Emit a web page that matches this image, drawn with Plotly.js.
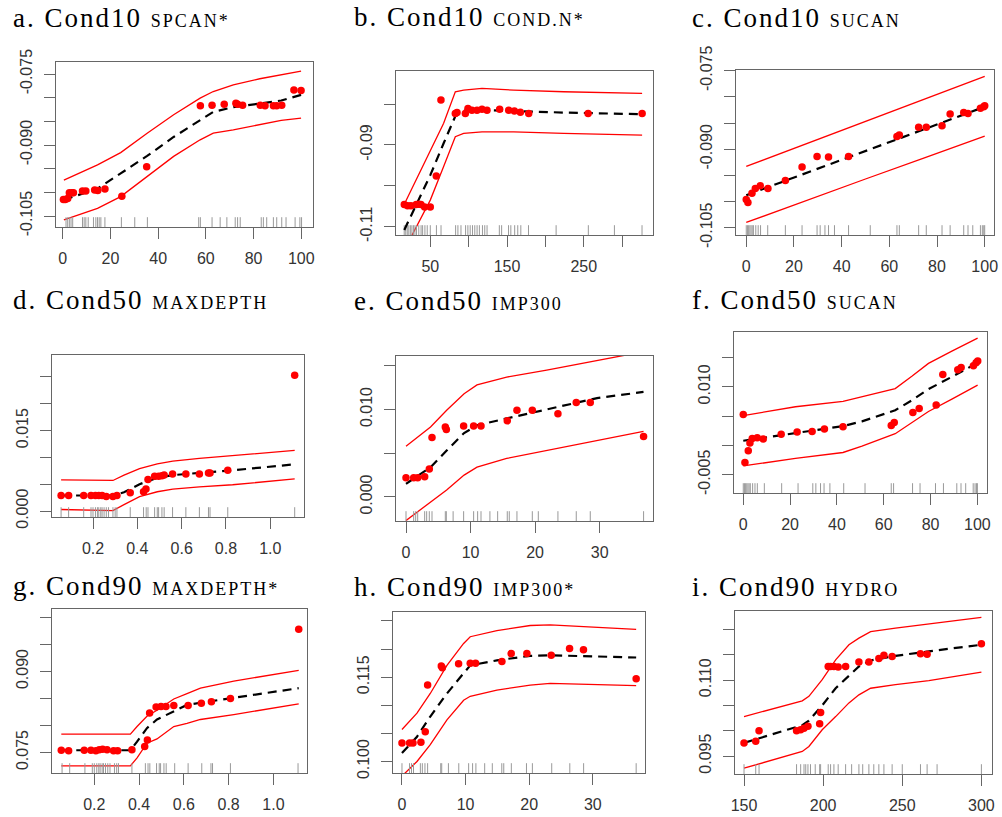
<!DOCTYPE html>
<html><head><meta charset="utf-8">
<script src="https://cdn.plot.ly/plotly-3.0.1.min.js"></script>
<style>
html,body{margin:0;padding:0;background:#fff;}
#chart{width:1002px;height:817px;}
.annotation-text{letter-spacing:2px;}
</style></head><body><div id="chart"></div>
<script>
// ---------- panel titles ----------
const titleMain = ['a. Cond10','b. Cond10','c. Cond10','d. Cond50','e. Cond50','f. Cond50','g. Cond90','h. Cond90','i. Cond90'];
const titleSub  = ['SPCAN*','COND.N*','SUCAN','MAXDEPTH','IMP300','SUCAN','MAXDEPTH*','IMP300*','HYDRO'];

// ---------- tick values / labels ----------
const xt0to100 = [0,20,40,60,80,100];
const xl0to100 = ['0','20','40','60','80','100'];
const xtCondN = [50,100,150,200,250,300];
const xlCondN = ['50','','150','','250',''];
const xtDepth = [0.2,0.4,0.6,0.8,1.0];
const xlDepth = ['0.2','0.4','0.6','0.8','1.0'];
const xtImp = [0,10,20,30];
const xlImp = ['0','10','20','30'];
const xtHydro = [150,200,250,300];
const xlHydro = ['150','200','250','300'];

const ytA = [-0.105,-0.100,-0.095,-0.090,-0.085,-0.080,-0.075];
const ylA = ['-0.105','','','-0.090','','','-0.075'];
const ytB = [-0.11,-0.10,-0.09,-0.08];
const ylB = ['-0.11','','-0.09',''];
const ytD = [0,0.005,0.010,0.015,0.020,0.025];
const ylD = ['0.000','','','0.015','',''];
const ytE = [0,0.005,0.010,0.015];
const ylE = ['0.000','','0.010',''];
const ytF = [-0.005,0,0.005,0.010,0.015];
const ylF = ['-0.005','','','0.010',''];
const ytG = [0.075,0.080,0.085,0.090,0.095,0.100];
const ylG = ['0.075','','','0.090','',''];
const ytH = [0.100,0.105,0.110,0.115,0.120,0.125];
const ylH = ['0.100','','','0.115','',''];
const ytI = [0.095,0.100,0.105,0.110,0.115,0.120];
const ylI = ['0.095','','','0.110','',''];

// ---------- rug (observed predictor values) ----------
const spcanRug = [1.4,2.1,2.8,3.5,4.2,8.3,9,9.7,10.7,12.9,13.9,14.6,15.3,16,17.7,24.6,30.2,35.5,57,57.7,62.6,66,68.8,72.3,73.3,74.4,83.2,84.1,85.5,88.3,89.7,91.8,93.6,97.4,99.4,100.1];
const condnRug = [16,18,20,22,24,26,28,30,32,35,38,40,43,46,50,58,64,83,86,90,96,99,102,105,108,111,114,118,121,124,140,143,152,155,160,164,168,178,214,256,290,326];
const sucanRug = [0,0.5,1,1.5,2,2.5,3,4,5,6,9,16.4,23.4,29.7,31,33,34.5,37,42.9,52,63.2,64.2,72.3,75.5,82.1,85.5,91.2,93,95,98.2,99,99.6,100];
const depthRug = [0.056,0.09,0.158,0.191,0.2,0.211,0.22,0.226,0.235,0.241,0.25,0.26,0.27,0.29,0.3,0.308,0.368,0.428,0.44,0.448,0.478,0.49,0.496,0.511,0.521,0.559,0.619,0.68,0.721,0.728,0.808,1.11];
const impRug = [0,1.19,1.5,1.81,2.89,3.2,3.61,4.03,6.09,6.25,7.3,8.93,10.48,11.1,11.62,13,14.2,15.69,16,17.19,19.57,20.5,23.54,26.38,28.55,36.81];
const hydroRug = [150,157.4,159.5,183.2,185.8,187.9,189,190.4,192,195,197.8,198.4,203.2,204.7,206.8,209.5,214.2,218,222.6,225,228.9,232,235.2,238.4,243.6,250,261.5,265.7,272,300];

// ---------- panel a ----------
const aX = [0.3,1.1,2.1,2.8,3.9,4.5,8.3,9.7,13.4,14.7,17.7,24.8,35.2,57.7,62.6,67.7,72.6,73.3,75.4,82.8,84.8,88.3,89.7,91.8,96.9,99.9];
const aY = [-0.1015,-0.1015,-0.1013,-0.1001,-0.1001,-0.1001,-0.0997,-0.0997,-0.0995,-0.0996,-0.0993,-0.1008,-0.0946,-0.0817,-0.0816,-0.0814,-0.0812,-0.0814,-0.0816,-0.0816,-0.0817,-0.0817,-0.0817,-0.0816,-0.0784,-0.0785];
const aCurveX = [0.5,14.6,24.3,35.4,46.5,57.6,63.1,71.5,82.6,91.6,99.9];
const aFit   = [-0.1016,-0.0992,-0.0960,-0.0923,-0.0883,-0.0847,-0.0830,-0.0820,-0.0813,-0.0806,-0.0794];
const aUpper = [-0.0974,-0.0942,-0.0916,-0.0875,-0.0836,-0.0801,-0.0787,-0.0773,-0.0760,-0.0751,-0.0744];
const aLower = [-0.1058,-0.1034,-0.1009,-0.0967,-0.0924,-0.0889,-0.0875,-0.0868,-0.0857,-0.0848,-0.0843];

// ---------- panel b ----------
const bX = [16.1,20.4,24.8,31.7,34.8,37.8,42.6,50,57.8,63.9,82.6,84.8,95.7,99.1,104.3,110.9,117.4,123.9,140.4,152.2,159.6,167.4,178.3,255.7,326.1];
const bY = [-0.1046,-0.1049,-0.1049,-0.1046,-0.1045,-0.1046,-0.1052,-0.1052,-0.0976,-0.0790,-0.0823,-0.0821,-0.0823,-0.0811,-0.0815,-0.0815,-0.0813,-0.0815,-0.0813,-0.0815,-0.0817,-0.0820,-0.0823,-0.0823,-0.0823];
const bCurveX = [16.1,27.4,50,67.4,82.6,93.5,117.4,158.7,223.9,326.1];
const bFit   = [-0.1108,-0.1064,-0.0974,-0.0896,-0.0830,-0.0816,-0.0815,-0.0817,-0.0821,-0.0825];
const bUpper = [-0.1045,-0.1002,-0.0917,-0.0847,-0.0770,-0.0766,-0.0762,-0.0766,-0.0770,-0.0774];
const bLower = [-0.1157,-0.1116,-0.1035,-0.0953,-0.0880,-0.0872,-0.0868,-0.0868,-0.0872,-0.0876];

// ---------- panel c ----------
const cX = [0,0.7,2.4,3.8,5.9,9.1,16.4,23.4,29.7,34.5,42.9,63.2,64.2,72.3,75.5,82.1,85.5,91.2,93.0,98.2,99.6,100];
const cY = [-0.0996,-0.1002,-0.0984,-0.0975,-0.0970,-0.0975,-0.0960,-0.0934,-0.0914,-0.0915,-0.0914,-0.0876,-0.0873,-0.0858,-0.0858,-0.0855,-0.0833,-0.0830,-0.0832,-0.0822,-0.0819,-0.0817];
const cCurveX = [0,25,50,75,100];
const cFit   = [-0.0988,-0.0946,-0.0904,-0.0861,-0.0819];
const cUpper = [-0.0933,-0.0890,-0.0847,-0.0804,-0.0761];
const cLower = [-0.1040,-0.0998,-0.0957,-0.0916,-0.0875];

// ---------- panel d ----------
const dX = [0.056,0.090,0.158,0.191,0.211,0.226,0.241,0.260,0.290,0.308,0.368,0.428,0.439,0.448,0.478,0.496,0.511,0.521,0.559,0.619,0.680,0.721,0.728,0.808,1.110];
const dY = [0.0029,0.0029,0.0029,0.0029,0.0029,0.0029,0.0029,0.0027,0.0027,0.0029,0.0034,0.0036,0.0041,0.0059,0.0065,0.0065,0.0066,0.0067,0.0069,0.0069,0.0069,0.0071,0.0071,0.0076,0.0253];
const dCurveX = [0.056,0.29,0.34,0.41,0.49,0.56,0.68,0.83,1.11];
const dFit   = [0.0029,0.0029,0.0035,0.0050,0.0062,0.0067,0.0071,0.0076,0.0087];
const dUpper = [0.0058,0.0057,0.0067,0.0079,0.0088,0.0093,0.0098,0.0103,0.0113];
const dLower = [0.0003,0.0001,0.0012,0.0027,0.0036,0.0041,0.0045,0.0049,0.0060];

// ---------- panel e ----------
const eX = [0,1.19,1.81,2.89,3.61,4.03,6.09,6.25,8.93,10.48,11.62,15.69,17.19,19.57,23.54,26.38,28.55,36.81];
const eY = [0.0022,0.0022,0.0022,0.0023,0.0032,0.0068,0.0080,0.0077,0.0081,0.0081,0.0081,0.0087,0.0099,0.0099,0.0095,0.0108,0.0108,0.0069];
const eCurveX = [0,2.7,3.8,6.3,9.0,11.0,15.6,21.8,29.6,36.8];
const eFit   = [0.0015,0.0029,0.0034,0.0053,0.0073,0.0082,0.0090,0.0100,0.0113,0.0120];
const eUpper = [0.0058,0.0074,0.0080,0.0099,0.0118,0.0128,0.0137,0.0145,0.0156,0.0166];
const eLower = [-0.0027,-0.0012,-0.0006,0.0008,0.0025,0.0034,0.0044,0.0053,0.0065,0.0075];

// ---------- panel f ----------
const fX = [0,0.71,2.13,2.84,3.84,5.97,8.52,16.19,23.01,29.40,34.66,42.61,63.21,64.49,72.44,75.14,82.39,85.23,91.62,93.04,98.3,99.43,100.14];
const fY = [0.0053,-0.0029,-0.0009,0.0004,0.0012,0.0013,0.0011,0.0019,0.0023,0.0024,0.0028,0.0032,0.0034,0.0039,0.0056,0.0063,0.0069,0.0121,0.0129,0.0133,0.0136,0.0141,0.0144];
const fCurveX = [0,8.1,22.3,42.6,50.7,64.9,72,79.1,89.1,100.1];
const fFit   = [0.0008,0.0013,0.0021,0.0033,0.0041,0.0060,0.0077,0.0096,0.0117,0.0141];
const fUpper = [0.0051,0.0056,0.0066,0.0075,0.0083,0.0097,0.0118,0.0140,0.0161,0.0183];
const fLower = [-0.0035,-0.0030,-0.0022,-0.0012,-0.0001,0.0020,0.0039,0.0058,0.0079,0.0103];

// ---------- panel g ----------
const gX = [0.0525,0.0853,0.155,0.185,0.207,0.222,0.237,0.257,0.286,0.304,0.368,0.425,0.437,0.447,0.476,0.498,0.520,0.555,0.619,0.678,0.723,0.808,1.113];
const gY = [0.0754,0.0753,0.0754,0.0754,0.0753,0.0755,0.0756,0.0755,0.0753,0.0753,0.0755,0.0761,0.0773,0.0823,0.0834,0.0835,0.0835,0.0837,0.0837,0.0841,0.0844,0.0850,0.0978];
const gCurveX = [0.0525,0.361,0.391,0.435,0.48,0.555,0.614,0.674,0.823,1.113];
const gFit   = [0.0754,0.0754,0.0770,0.0795,0.0811,0.0826,0.0838,0.0842,0.0851,0.0869];
const gUpper = [0.0784,0.0784,0.0798,0.0817,0.0828,0.0849,0.0859,0.0869,0.0882,0.0902];
const gLower = [0.0725,0.0725,0.0740,0.0767,0.0775,0.0798,0.0804,0.0811,0.0820,0.0840];

// ---------- panel h ----------
const hX = [0,1.2,1.73,2.98,3.66,4.03,6.18,6.34,8.9,10.73,11.57,15.71,17.17,19.63,23.46,26.34,28.53,36.81];
const hY = [0.1033,0.1033,0.1033,0.1034,0.1053,0.1136,0.1170,0.1167,0.1174,0.1175,0.1175,0.1178,0.1192,0.1192,0.1189,0.1201,0.1199,0.1147];
const hCurveX = [0,2.36,4.45,7.07,9.69,10.73,14.92,20.16,23.3,36.81];
const hFit   = [0.1015,0.1044,0.1080,0.1121,0.1157,0.1171,0.1180,0.1188,0.1189,0.1185];
const hUpper = [0.1057,0.1086,0.1121,0.1171,0.1210,0.1222,0.1233,0.1242,0.1243,0.1235];
const hLower = [0.0974,0.1000,0.1030,0.1074,0.1109,0.1116,0.1127,0.1136,0.1139,0.1135];

// ---------- panel i ----------
const iX = [150,157.4,159.5,183.2,185.8,187.9,190.4,197.8,198.4,203.2,204.7,206.8,209.5,214.2,222.6,228.9,235.2,238.4,243.6,261.5,265.7,300];
const iY = [0.0976,0.0979,0.1000,0.1000,0.1002,0.1005,0.1009,0.1014,0.1036,0.1127,0.1127,0.1127,0.1126,0.1127,0.1136,0.1136,0.1143,0.1149,0.1147,0.1152,0.1151,0.1172];
const iCurveX = [150,186.8,191,199.4,207.9,216.3,222.6,230,245.7,266.8,300];
const iFit   = [0.0976,0.1011,0.1020,0.1050,0.1084,0.1108,0.1127,0.1139,0.1148,0.1157,0.1170];
const iUpper = [0.1028,0.1059,0.1068,0.1101,0.1140,0.1170,0.1183,0.1196,0.1203,0.1211,0.1224];
const iLower = [0.0926,0.0959,0.0969,0.1002,0.1028,0.1055,0.1071,0.1084,0.1091,0.1099,0.1116];

// ---------- layout configuration (pixel boxes, ranges) ----------
const W = 1002, H = 817;
const panels = [
  {px:aX,py:aY,cx:aCurveX,fit:aFit,up:aUpper,lo:aLower,rug:spcanRug,xt:xt0to100,xl:xl0to100,yt:ytA,yl:ylA,
   box:[56,313,62,227], xr:[-2.8,104.9], yr:[-0.10732,-0.07246], tp:[11,27]},
  {px:bX,py:bY,cx:bCurveX,fit:bFit,up:bUpper,lo:bLower,rug:condnRug,xt:xtCondN,xl:xlCondN,yt:ytB,yl:ylB,
   box:[396,653,71,235], xr:[5.3,340.3], yr:[-0.11203,-0.07193], tp:[352,26]},
  {px:cX,py:cY,cx:cCurveX,fit:cFit,up:cUpper,lo:cLower,rug:sucanRug,xt:xt0to100,xl:xl0to100,yt:ytA,yl:ylA,
   box:[736,994,70,235], xr:[-4.3,103.9], yr:[-0.1064,-0.07487], tp:[690,27]},
  {px:dX,py:dY,cx:dCurveX,fit:dFit,up:dUpper,lo:dLower,rug:depthRug,xt:xtDepth,xl:xlDepth,yt:ytD,yl:ylD,
   box:[52,304,355,517], xr:[0.015,1.152], yr:[-0.0011,0.02905], tp:[11,309]},
  {px:eX,py:eY,cx:eCurveX,fit:eFit,up:eUpper,lo:eLower,rug:impRug,xt:xtImp,xl:xlImp,yt:ytE,yl:ylE,
   box:[396,653,356,521], xr:[-1.55,38.27], yr:[-0.00275,0.01611], tp:[352,310]},
  {px:fX,py:fY,cx:fCurveX,fit:fFit,up:fUpper,lo:fLower,rug:sucanRug,xt:xt0to100,xl:xl0to100,yt:ytF,yl:ylF,
   box:[734,987,332,493], xr:[-3.96,104.1], yr:[-0.00811,0.01935], tp:[690,309]},
  {px:gX,py:gY,cx:gCurveX,fit:gFit,up:gUpper,lo:gLower,rug:depthRug,xt:xtDepth,xl:xlDepth,yt:ytG,yl:ylG,
   box:[52,307,609,773], xr:[0.011,1.150], yr:[0.07119,0.10156], tp:[11,595]},
  {px:hX,py:hY,cx:hCurveX,fit:hFit,up:hUpper,lo:hLower,rug:impRug,xt:xtImp,xl:xlImp,yt:ytH,yl:ylH,
   box:[393,645,612,773], xr:[-1.41,38.2], yr:[0.09795,0.1266], tp:[352,596]},
  {px:iX,py:iY,cx:iCurveX,fit:iFit,up:iUpper,lo:iLower,rug:hydroRug,xt:xtHydro,xl:xlHydro,yt:ytI,yl:ylI,
   box:[735,992,611,774], xr:[144.3,306.7], yr:[0.09145,0.12367], tp:[690,596]}
];

const tickFont = {family:'Liberation Sans, Arial, sans-serif', size:16, color:'#333'};
const axisCommon = {
  tickmode:'array', ticks:'outside', ticklen:11, tickwidth:1, tickcolor:'#666',
  showline:true, linecolor:'#666', linewidth:1, mirror:true,
  showgrid:false, zeroline:false, tickfont:tickFont, fixedrange:true
};

const traces = [];
const layout = {
  width:W, height:H, margin:{l:0,r:0,t:0,b:0},
  paper_bgcolor:'#fff', plot_bgcolor:'#fff', showlegend:false,
  annotations:[]
};

panels.forEach((p,k)=>{
  const n = k===0 ? '' : String(k+1);
  const xa = 'x'+n, ya = 'y'+n;
  traces.push({x:p.cx, y:p.up, xaxis:xa, yaxis:ya, mode:'lines', line:{color:'red', width:1.3}, hoverinfo:'skip'});
  traces.push({x:p.cx, y:p.lo, xaxis:xa, yaxis:ya, mode:'lines', line:{color:'red', width:1.3}, hoverinfo:'skip'});
  traces.push({x:p.rug, y:p.rug.map(()=>p.yr[0]), xaxis:xa, yaxis:ya, mode:'markers', cliponaxis:true,
               marker:{symbol:'line-ns', size:14, color:'#999', line:{color:'#999', width:1}}, hoverinfo:'skip'});
  traces.push({x:p.cx, y:p.fit, xaxis:xa, yaxis:ya, mode:'lines', line:{color:'black', width:2.2, dash:'9px,6px'}, hoverinfo:'skip'});
  traces.push({x:p.px, y:p.py, xaxis:xa, yaxis:ya, mode:'markers', marker:{color:'red', size:7.5}, hoverinfo:'skip'});

  const [L,R,T,B] = p.box;
  layout['xaxis'+n] = Object.assign({}, axisCommon, {
    domain:[L/W, R/W], range:p.xr, anchor:ya, tickvals:p.xt, ticktext:p.xl, ticklabelstandoff:6
  });
  layout['yaxis'+n] = Object.assign({}, axisCommon, {
    domain:[(H-B)/H, (H-T)/H], range:p.yr, anchor:xa, tickvals:p.yt, ticktext:p.yl, tickangle:-90, ticklabelstandoff:6
  });
  layout.annotations.push({
    xref:'paper', yref:'paper', x:p.tp[0]/W, y:(H-(p.tp[1]-9))/H, xanchor:'left', yanchor:'middle',
    showarrow:false, align:'left',
    text: titleMain[k] + ' <span style="font-size:18px">' + titleSub[k] + '</span>',
    font:{family:'Liberation Serif, Times New Roman, serif', size:27, color:'#000'}
  });
});

Plotly.newPlot('chart', traces, layout, {staticPlot:true, displayModeBar:false});
</script></body></html>
